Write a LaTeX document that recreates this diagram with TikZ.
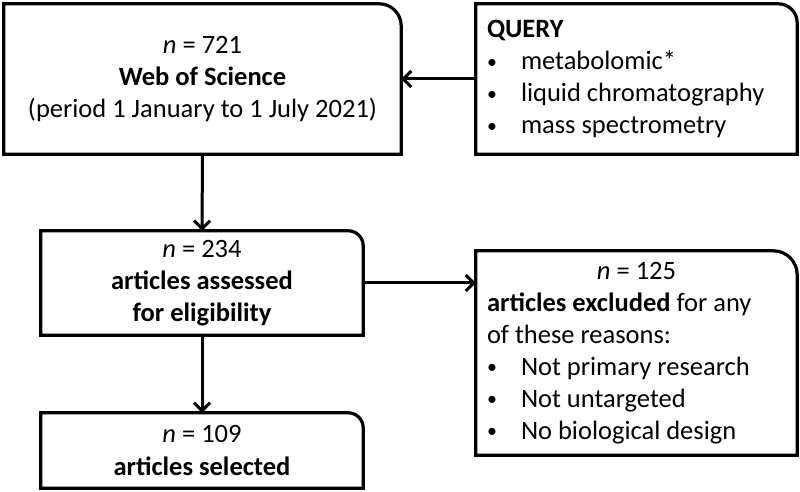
\documentclass[tikz,border=0pt]{standalone}
\usepackage{fontspec}
\setmainfont{Carlito}
\usepackage{tikz}
\usetikzlibrary{arrows.meta,calc}

% box with only its top right corner rounded
\newcommand{\cornerbox}[2]{%
  \draw[boxline] (#1.south west) -- (#1.north west) -- ([xshift=-#2]#1.north east)
    arc[start angle=90,end angle=0,radius=#2] -- (#1.south east) -- cycle;}
\newcommand{\bul}{\makebox[34pt][l]{\raisebox{0.12ex}{\scalebox{0.75}{\textbullet}}}}

\tikzset{
  boxline/.style={line width=3.2pt,line join=miter},
  flow/.style={line width=3pt,-{Straight Barb[length=8pt,width=16pt]}},
  txt/.style={inner sep=0pt,font=\fontsize{26.5}{32}\selectfont},
  listtxt/.style={txt,align=flush left,text width=299pt,inner xsep=11pt}
}

\begin{document}
\begin{tikzpicture}
\useasboundingbox (0,0) rectangle (800pt,492pt);
\node[txt,align=center,minimum width=397pt,minimum height=150pt] (wos) at (202.5pt,413pt)
  {\textit{n} = 721\\\textbf{Web of Science}\\(period 1 January to 1 July 2021)};
\node[listtxt,minimum height=150pt] (query) at (636.5pt,413pt)
  {\textbf{QUERY}\\\bul metabolomic*\\\bul liquid chromatography\\\bul mass spectrometry};
\node[txt,align=center,minimum width=322pt,minimum height=104pt] (assess) at (202pt,209pt)
  {\textit{n} = 234\\\textbf{articles assessed}\\\textbf{for eligibility}};
\node[listtxt,minimum height=204pt] (excl) at (636.5pt,139pt)
  {\hspace*{\fill}\textit{n} = 125\hspace*{\fill}\mbox{}\\\textbf{articles excluded} for any\\of these reasons:\\\bul Not primary research\\\bul Not untargeted\\\bul No biological design};
\node[txt,align=center,minimum width=322pt,minimum height=75pt] (sel) at (202pt,41.5pt)
  {\textit{n} = 109\\\textbf{articles selected}};

\cornerbox{wos}{22pt}
\cornerbox{query}{19pt}
\cornerbox{assess}{15pt}
\cornerbox{excl}{24pt}
\cornerbox{sel}{15pt}

\draw[flow] (query.west) -- (wos.east);
\draw[flow] (wos.south) -- (assess.north);
\draw[flow] (assess.east) -- (assess.east -| excl.west);
\draw[flow] (assess.south) -- (sel.north);
\end{tikzpicture}
\end{document}
